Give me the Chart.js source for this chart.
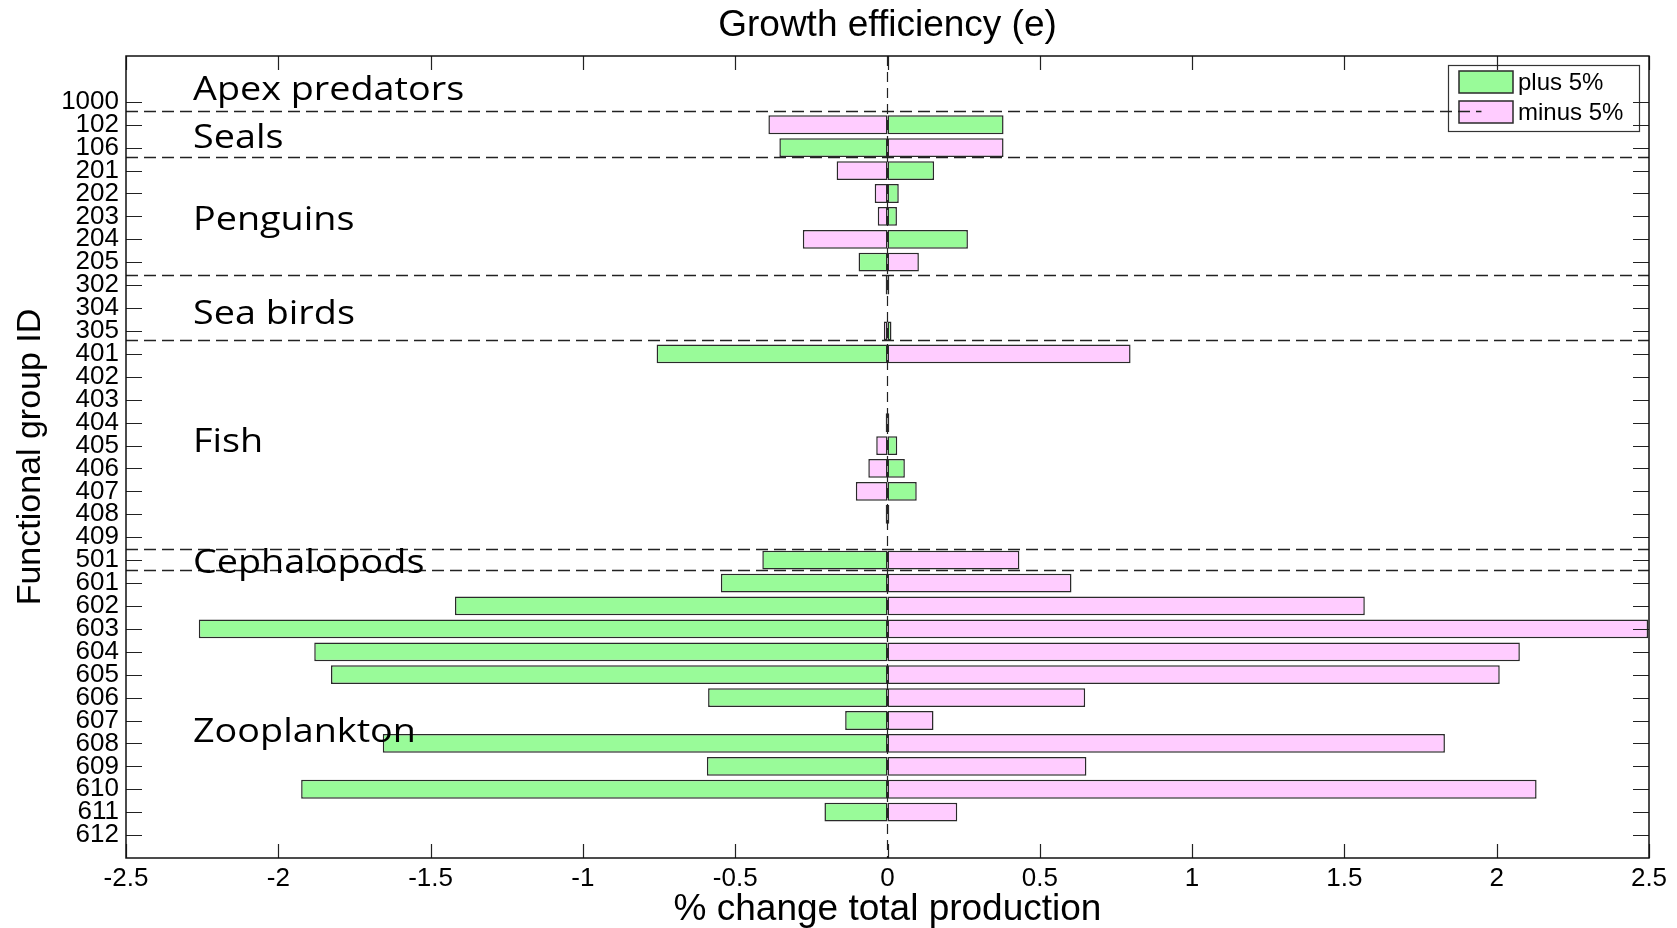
<!DOCTYPE html>
<html>
<head>
<meta charset="utf-8">
<script src="https://cdn.jsdelivr.net/npm/chart.js@4/dist/chart.umd.min.js"></script>
<style>
  html, body { margin: 0; padding: 0; background: #fff; }
  #wrap { width: 1677px; height: 928px; }
</style>
</head>
<body>
<div id="wrap"><canvas id="c" width="1677" height="928"></canvas></div>
<script>
// ---- data ----
const categories = ['1000','102','106','201','202','203','204','205','302','304','305',
  '401','402','403','404','405','406','407','408','409','501',
  '601','602','603','604','605','606','607','608','609','610','611','612'];

const plus5 = [null, 0.381, -0.355, 0.153, 0.037, 0.031, 0.264, -0.095, 0.006, null, 0.013,
  -0.758, null, null, 0.006, 0.032, 0.057, 0.096, 0.006, null, -0.411,
  -0.547, -1.420, -2.261, -1.882, -1.827, -0.589, -0.139, -1.657, -0.593, -1.925, -0.207, null];

const minus5 = [null, -0.391, 0.381, -0.167, -0.042, -0.032, -0.278, 0.103, -0.006, null, -0.012,
  0.798, null, null, -0.006, -0.037, -0.063, -0.104, -0.006, null, 0.433,
  0.604, 1.567, 2.497, 2.076, 2.010, 0.649, 0.151, 1.830, 0.653, 2.131, 0.229, null];

const xTickValues = [-2.5, -2, -1.5, -1, -0.5, 0, 0.5, 1, 1.5, 2, 2.5];

const seriesNames = ['plus 5%', 'minus 5%'];
const chartTitle = 'Growth efficiency (e)';

// group annotations: name and row position (in axis units)
const groupNames = ['Apex predators', 'Seals', 'Penguins', 'Sea birds', 'Fish', 'Cephalopods', 'Zooplankton'];
const groupRows  = [0.92, 3.02, 6.59, 10.70, 16.27, 21.58, 28.93];
// separators between groups (row positions) and their right end (x units)
const separatorRows = [1.40, 3.42, 8.56, 11.40, 20.53, 21.43];
const separatorEnds = [1.95, 2.5, 2.5, 2.5, 2.5, 2.5];

// ---- build ----
const toPoints = arr => arr.map((v, i) => ({ x: v, y: i + 1 }));
const GREEN = '#99fb99';
const PINK = '#ffccff';
const EDGE = '#2a2a2a';
const FONT = '"Liberation Sans", Arial, sans-serif';

const overlay = {
  id: 'overlay',
  beforeDatasetsDraw(chart) {
    const { ctx, chartArea: a, scales: { x } } = chart;
    const x0 = x.getPixelForValue(0);
    ctx.save();
    ctx.strokeStyle = '#222';
    ctx.lineWidth = 1.2;
    ctx.setLineDash([10, 6]);
    ctx.beginPath();
    ctx.moveTo(x0, a.top);
    ctx.lineTo(x0, a.bottom);
    ctx.stroke();
    ctx.restore();
  },
  afterDraw(chart) {
    const { ctx, chartArea: a, scales: { x, y } } = chart;
    ctx.save();
    // title centred over the plot area
    ctx.fillStyle = '#000';
    ctx.font = '37px ' + FONT;
    ctx.textAlign = 'center';
    ctx.textBaseline = 'middle';
    ctx.fillText(chartTitle, (a.left + a.right) / 2, 26);

    // legend box (behind separators)
    const lb = { l: 1448, t: 65, r: 1639, b: 131 };
    ctx.fillStyle = '#fff';
    ctx.fillRect(lb.l, lb.t, lb.r - lb.l, lb.b - lb.t);
    ctx.strokeStyle = '#333';
    ctx.lineWidth = 1.2;
    ctx.strokeRect(lb.l + 0.5, lb.t + 0.5, lb.r - lb.l, lb.b - lb.t);

    // legend swatches and text
    const ds = chart.data.datasets;
    const swatchTops = [71, 101];
    ds.forEach((d, i) => {
      ctx.fillStyle = d.backgroundColor;
      ctx.fillRect(1459, swatchTops[i], 54, 22);
      ctx.strokeStyle = EDGE;
      ctx.lineWidth = 1.5;
      ctx.strokeRect(1459, swatchTops[i], 54, 22);
      ctx.fillStyle = '#000';
      ctx.font = '24px ' + FONT;
      ctx.textBaseline = 'alphabetic';
      ctx.textAlign = 'left';
      ctx.fillText(d.label, 1518, swatchTops[i] + 19);
    });

    // dashed separators
    ctx.strokeStyle = '#222';
    ctx.lineWidth = 1.3;
    ctx.setLineDash([12, 6]);
    separatorRows.forEach((r, i) => {
      const py = Math.round(y.getPixelForValue(r)) + 0.5;
      ctx.beginPath();
      ctx.moveTo(a.left, py);
      ctx.lineTo(x.getPixelForValue(separatorEnds[i]), py);
      ctx.stroke();
    });
    ctx.setLineDash([]);

    // group labels
    ctx.fillStyle = '#000';
    ctx.font = '32px "Open Sans", "Noto Sans", sans-serif';
    ctx.textAlign = 'left';
    ctx.textBaseline = 'alphabetic';
    const gx = x.getPixelForValue(-2.28);
    groupNames.forEach((g, i) => {
      ctx.save();
      ctx.translate(gx, y.getPixelForValue(groupRows[i]));
      ctx.scale(1.18, 1);
      ctx.fillText(g, 0, 0);
      ctx.restore();
    });

    // inward tick marks
    ctx.strokeStyle = '#222';
    ctx.lineWidth = 1.2;
    ctx.beginPath();
    y.ticks.forEach((t, i) => {
      const lbl = categories[t.value - 1];
      if (!lbl) return;
      const py = Math.round(y.getPixelForTick(i)) + 0.5;
      ctx.moveTo(a.left, py); ctx.lineTo(a.left + 16, py);
      ctx.moveTo(a.right, py); ctx.lineTo(a.right - 16, py);
    });
    x.ticks.forEach((t, i) => {
      const px = Math.round(x.getPixelForTick(i)) + 0.5;
      ctx.moveTo(px, a.bottom); ctx.lineTo(px, a.bottom - 14);
      ctx.moveTo(px, a.top); ctx.lineTo(px, a.top + 14);
    });
    ctx.stroke();

    // frame
    ctx.strokeStyle = '#111';
    ctx.lineWidth = 1.5;
    ctx.strokeRect(a.left, a.top, a.right - a.left, a.bottom - a.top);
    ctx.restore();
  }
};

new Chart(document.getElementById('c'), {
  type: 'bar',
  data: {
    datasets: [
      { label: seriesNames[0], data: toPoints(plus5), backgroundColor: GREEN },
      { label: seriesNames[1], data: toPoints(minus5), backgroundColor: PINK }
    ]
  },
  options: {
    indexAxis: 'y',
    responsive: false,
    animation: false,
    devicePixelRatio: 1,
    layout: { padding: { left: 0, right: 28, top: 56, bottom: 0 } },
    datasets: {
      bar: {
        grouped: false,
        borderColor: EDGE,
        borderWidth: 1.5,
        borderSkipped: false,
        barPercentage: 0.82,
        categoryPercentage: 1
      }
    },
    plugins: {
      legend: { display: false },
      tooltip: { enabled: false },
      title: { display: false }
    },
    scales: {
      x: {
        type: 'linear',
        position: 'bottom',
        min: -2.5,
        max: 2.5,
        offset: false,
        afterBuildTicks: s => { s.ticks = xTickValues.map(v => ({ value: v })); },
        ticks: {
          color: '#000',
          font: { family: FONT, size: 26 },
          padding: 5,
          maxRotation: 0,
          autoSkip: false,
          callback: v => String(v)
        },
        grid: { display: false, drawTicks: false, offset: false },
        border: { display: false },
        title: {
          display: true,
          text: '% change total production',
          color: '#000',
          font: { family: FONT, size: 37, lineHeight: 1.0 },
          padding: { top: 0, bottom: 0 }
        },
        afterFit: s => { s.height = 70; }
      },
      y: {
        type: 'linear',
        reverse: true,
        min: -1,
        max: 34,
        offset: false,
        ticks: {
          stepSize: 1,
          autoSkip: false,
          color: '#000',
          font: { family: FONT, size: 26 },
          padding: 7,
          callback: v => categories[v - 1] || ''
        },
        grid: { display: false, drawTicks: false, offset: false },
        border: { display: false },
        title: {
          display: true,
          text: 'Functional group ID',
          color: '#000',
          font: { family: FONT, size: 34, lineHeight: 1.2 },
          padding: { top: 10, bottom: 0 }
        },
        afterFit: s => { s.width = 126; }
      }
    }
  },
  plugins: [overlay]
});
</script>
</body>
</html>
